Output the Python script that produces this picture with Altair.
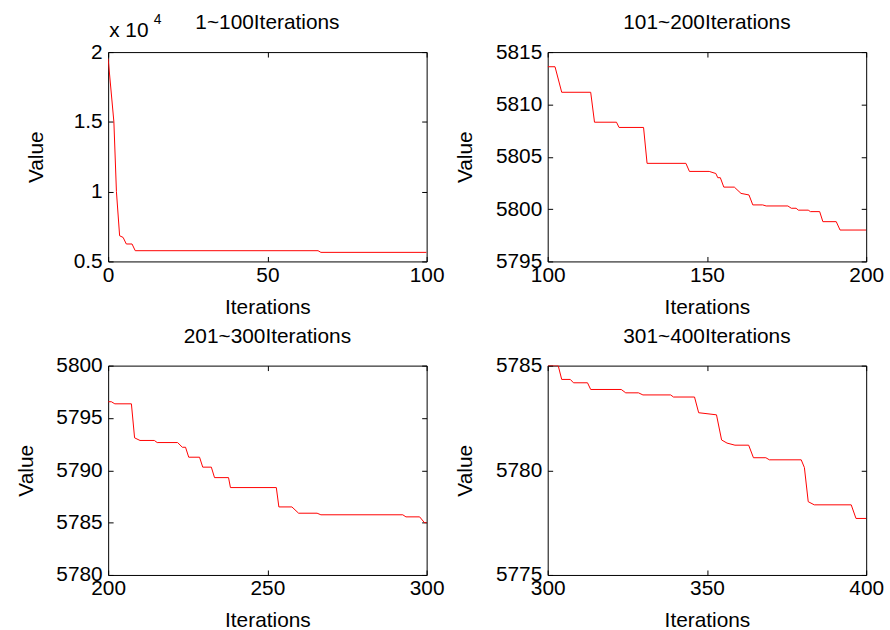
import altair as alt
import pandas as pd

# ---- data ----
p1_iter = [0, 1.8, 2.6, 3.6, 4.7, 5.7, 7.5, 8.5, 65.9, 66.8, 100]
p1_value = [19520, 15000, 10000, 6840, 6720, 6250, 6250, 5770, 5770, 5650, 5650]

p2_iter = [100, 102.3, 104.4, 113.5, 114.7, 121.6, 122.4, 130.1, 131.2, 143.4,
           144.5, 150.7, 152.8, 153.4, 154.2, 155.3, 158.6, 160.7, 163.2, 164.4,
           167.5, 168.6, 175.4, 176.5, 178.0, 178.7, 181.8, 182.5, 185.4, 186.4,
           190.6, 191.8, 200]
p2_value = [5813.6, 5813.6, 5811.16, 5811.16, 5808.3, 5808.3, 5807.8, 5807.8, 5804.37, 5804.37,
            5803.6, 5803.6, 5803.4, 5803.0, 5803.0, 5802.1, 5802.1, 5801.5, 5801.35, 5800.4,
            5800.4, 5800.3, 5800.3, 5800.08, 5800.08, 5799.9, 5799.9, 5799.76, 5799.76, 5798.8,
            5798.8, 5798.0, 5798.0]

p3_iter = [200, 201, 202.1, 207.3, 208.3, 210, 214.5, 215.4, 221.8, 223.3,
           224.3, 225.3, 228.7, 229.7, 232.4, 233.4, 237.8, 238.4, 252.8, 253.6,
           257.7, 259.8, 265.6, 266.8, 292.5, 293.5, 297.8, 299.3, 300]
p3_value = [5796.55, 5796.55, 5796.35, 5796.35, 5793.1, 5792.85, 5792.85, 5792.65, 5792.65, 5792.2,
            5792.2, 5791.25, 5791.25, 5790.3, 5790.3, 5789.3, 5789.3, 5788.35, 5788.35, 5786.5,
            5786.5, 5785.9, 5785.9, 5785.75, 5785.75, 5785.55, 5785.55, 5785.0, 5785.0]

p4_iter = [300, 303.3, 304.4, 307.1, 308.1, 312.5, 313.5, 323.1, 324.5, 328.5,
           329.9, 338.6, 339.5, 346.1, 347.4, 353, 354.6, 356.3, 358.8, 363.1,
           364.6, 368.5, 369.6, 379.6, 380.6, 381.8, 383.7, 395.3, 396.8, 400]
p4_value = [5785, 5785, 5784.34, 5784.34, 5784.18, 5784.18, 5783.86, 5783.86, 5783.7, 5783.7,
            5783.6, 5783.6, 5783.5, 5783.5, 5782.75, 5782.65, 5781.45, 5781.3, 5781.2, 5781.2,
            5780.6, 5780.6, 5780.5, 5780.5, 5780.13, 5778.5, 5778.35, 5778.35, 5777.7, 5777.7]

titles = ["1~100Iterations", "101~200Iterations", "201~300Iterations", "301~400Iterations"]
x_domains = [[0, 100], [100, 200], [200, 300], [300, 400]]
x_ticks = [[0, 50, 100], [100, 150, 200], [200, 250, 300], [300, 350, 400]]
y_domains = [[5000, 20000], [5795, 5815], [5780, 5800], [5775, 5785]]
y_ticks = [[5000, 10000, 15000, 20000], [5795, 5800, 5805, 5810, 5815],
           [5780, 5785, 5790, 5795, 5800], [5775, 5780, 5785]]
x_title = "Iterations"
y_title = "Value"
exp_base = ["x 10"]
exp_power = ["4"]

FONT = "Liberation Sans"
FS = 21
W, H = 321, 211
TICK = 5


def text_layer(strings, x, y, size, align="left"):
    return alt.Chart(pd.DataFrame({"t": strings})).mark_text(
        align=align, baseline="alphabetic", fontSize=size, font=FONT, color="black"
    ).encode(text="t:N", x=alt.value(x), y=alt.value(y))


def panel(xs, ys, title, xd, xt, yd, yt, label_expr=None, extra=(), ytp=20):
    df = pd.DataFrame({"Iterations": xs, "Value": ys})
    ykw = dict(orient="left", values=yt, title=y_title, offset=-TICK, tickSize=TICK,
               domain=False, labelPadding=6, titlePadding=ytp, labelFlush=False)
    if label_expr:
        ykw["labelExpr"] = label_expr
    else:
        ykw["format"] = "d"
    line = alt.Chart(df).mark_line(color="#ff0000", strokeWidth=1, clip=True).encode(
        x=alt.X("Iterations:Q",
                scale=alt.Scale(domain=xd, nice=False, zero=False),
                axis=alt.Axis(orient="bottom", values=xt, title=x_title, offset=-TICK, format="d",
                              tickSize=TICK, domain=False, labelPadding=3, titlePadding=11,
                              labelFlush=False)),
        y=alt.Y("Value:Q", scale=alt.Scale(domain=yd, nice=False, zero=False),
                axis=alt.Axis(**ykw)),
    )
    ghost = alt.Chart(df).mark_line(strokeOpacity=0, color="#ff0000").encode(
        x=alt.X("Iterations:Q",
                axis=alt.Axis(orient="top", values=xt, labels=False, title="", offset=-TICK,
                              tickSize=TICK, domain=False, titlePadding=0)),
        y=alt.Y("Value:Q",
                axis=alt.Axis(orient="right", values=yt, labels=False, title="", offset=-TICK,
                              tickSize=TICK, domain=False, titlePadding=0)),
    )
    ttl = text_layer([title], W / 2, -23, FS, align="center")
    return alt.layer(line, ghost, ttl, *extra).resolve_axis(
        x="independent", y="independent").properties(width=W, height=H)


ch1 = panel(p1_iter, p1_value, titles[0], x_domains[0], x_ticks[0], y_domains[0], y_ticks[0],
            label_expr="'' + (datum.value / 10000)", ytp=27,
            extra=(text_layer(exp_base, 1, -15, FS), text_layer(exp_power, 46, -28, 14)))
ch2 = panel(p2_iter, p2_value, titles[1], x_domains[1], x_ticks[1], y_domains[1], y_ticks[1])
ch3 = panel(p3_iter, p3_value, titles[2], x_domains[2], x_ticks[2], y_domains[2], y_ticks[2])
ch4 = panel(p4_iter, p4_value, titles[3], x_domains[3], x_ticks[3], y_domains[3], y_ticks[3])

chart = alt.concat(ch1, ch2, ch3, ch4, columns=2, spacing=alt.RowColnumber(row=105, column=122),
                   bounds="flush").properties(
    padding={"left": 14, "top": 9, "right": 5, "bottom": 0},
    background="white",
).configure_axis(
    labelFont=FONT, titleFont=FONT, labelFontSize=FS, titleFontSize=FS,
    titleFontWeight="normal", labelColor="black", titleColor="black",
    tickColor="black", tickWidth=1, grid=False,
).configure_view(stroke="black", strokeWidth=1)

chart.save("out.html", embed_options={"renderer": "svg", "actions": False})
